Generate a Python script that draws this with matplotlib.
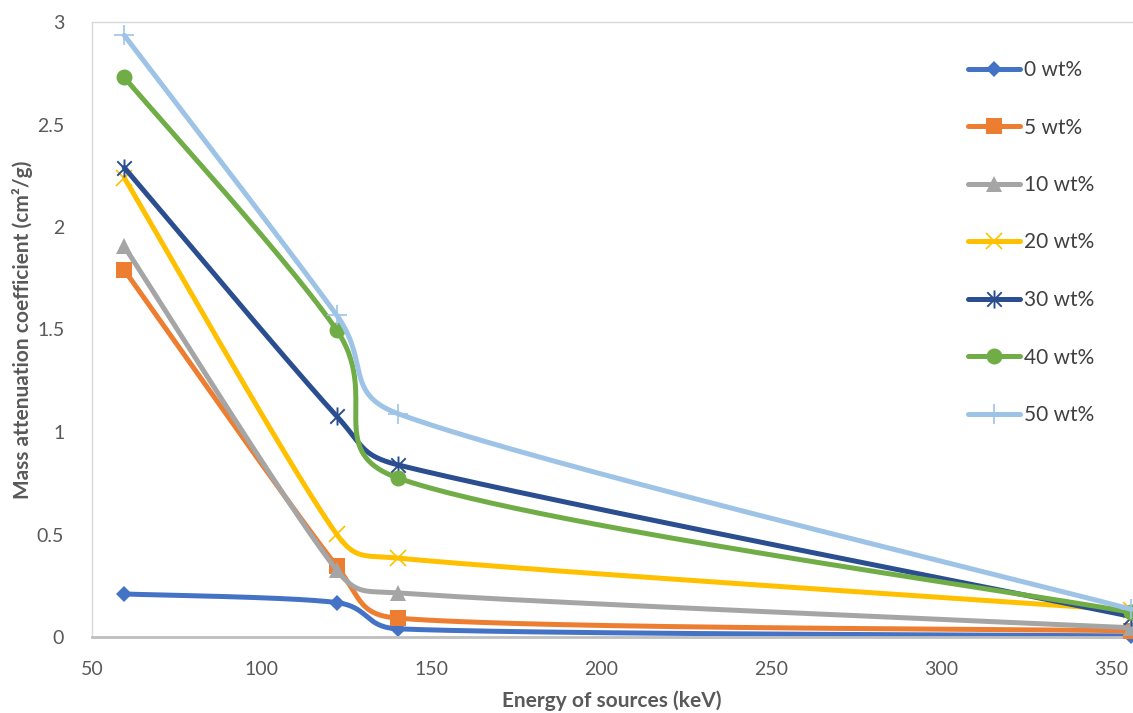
import numpy as np
import matplotlib
matplotlib.use("Agg")
import matplotlib.pyplot as plt
from matplotlib.path import Path
from matplotlib.lines import Line2D

# ---------------- data ----------------
energy = [59.5, 122, 140, 356]
series_labels = ["0 wt%", "5 wt%", "10 wt%", "20 wt%", "30 wt%", "40 wt%", "50 wt%"]
wt0 = [0.21, 0.168, 0.04, 0.005]
wt5 = [1.79, 0.346, 0.092, 0.03]
wt10 = [1.905, 0.327, 0.215, 0.045]
wt20 = [2.24, 0.502, 0.385, 0.13]
wt30 = [2.29, 1.078, 0.84, 0.10]
wt40 = [2.73, 1.498, 0.776, 0.12]
wt50 = [2.935, 1.571, 1.09, 0.135]
x_ticks = [50, 100, 150, 200, 250, 300, 350]
y_ticks = [0, 0.5, 1, 1.5, 2, 2.5, 3]
y_tick_labels = ["0", "0.5", "1", "1.5", "2", "2.5", "3"]

# ---------------- style ----------------
plt.rcParams['font.family'] = ['Lato', 'DejaVu Sans']
colors = ["#4472C4", "#ED7D31", "#A5A5A5", "#FFC000", "#2A4E8F", "#70AD47", "#9DC3E6"]

star_path = Path(
    [(-1, -1), (1, 1), (-1, 1), (1, -1), (0, -1.25), (0, 1.25)],
    [Path.MOVETO, Path.LINETO, Path.MOVETO, Path.LINETO, Path.MOVETO, Path.LINETO])

marker_specs = [
    dict(marker='D', ms=8.5, mew=0),
    dict(marker='s', ms=11, mew=0),
    dict(marker='^', ms=11, mew=0),
    dict(marker='x', ms=11, mew=1.2),
    dict(marker=star_path, ms=13, mew=1.4),
    dict(marker='o', ms=11.5, mew=0),
    dict(marker='+', ms=14, mew=1.2),
]

W, H = 1133, 713
fig = plt.figure(figsize=(W / 100, H / 100), dpi=100)
left_px, right_px, top_px, bottom_px = 92, 1145, 22, 637
ax = fig.add_axes([left_px / W, (H - bottom_px) / H,
                   (right_px - left_px) / W, (bottom_px - top_px) / H])
ax.set_xlim(50, 360)
ax.set_ylim(0, 3)
fig.canvas.draw()


def excel_smooth(xs, ys, n=60):
    """Excel-like smoothed line: Bezier segments with limited control arms,
    computed in display (pixel) space."""
    pts = ax.transData.transform(np.column_stack([xs, ys]))
    m = len(pts)
    out = [pts[0]]
    for i in range(m - 1):
        p0 = pts[i - 1] if i > 0 else pts[i]
        p1 = pts[i]
        p2 = pts[i + 1]
        p3 = pts[i + 2] if i + 2 < m else pts[i + 1]
        d02 = np.linalg.norm(p2 - p0)
        d12 = np.linalg.norm(p2 - p1)
        d13 = np.linalg.norm(p3 - p1)
        c1 = d02 / 6 >= d12 / 2
        c2 = d13 / 6 >= d12 / 2
        if not c1 and not c2:
            f1 = f2 = 1 / 6
        elif c1 and c2:
            f1 = d12 / 2 / d02
            f2 = d12 / 2 / d13
        elif c1:
            f1 = f2 = d12 / 2 / d02
        else:
            f1 = f2 = d12 / 2 / d13
        b1 = p1 + f1 * (p2 - p0)
        b2 = p2 - f2 * (p3 - p1)
        t = np.linspace(0, 1, n)[1:, None]
        seg = ((1 - t) ** 3) * p1 + 3 * ((1 - t) ** 2) * t * b1 + 3 * (1 - t) * t ** 2 * b2 + t ** 3 * p2
        out.extend(seg)
    out = np.array(out)
    data = ax.transData.inverted().transform(out)
    return data[:, 0], data[:, 1]


all_series = [wt0, wt5, wt10, wt20, wt30, wt40, wt50]
handles = []
for k, (vals, lab, col, ms) in enumerate(zip(all_series, series_labels, colors, marker_specs)):
    sx, sy = excel_smooth(energy, vals)
    ax.plot(sx, sy, color=col, lw=3.6, solid_capstyle='round', zorder=2 + k, clip_on=False)
    ax.plot(energy, vals, linestyle='none', marker=ms['marker'], markersize=ms['ms'],
            markerfacecolor=col, markeredgecolor=col, markeredgewidth=ms['mew'],
            zorder=2 + k, clip_on=False)
    handles.append(Line2D([0], [0], color=col, lw=3.6, solid_capstyle='round',
                          marker=ms['marker'], markersize=ms['ms'],
                          markerfacecolor=col, markeredgecolor=col,
                          markeredgewidth=ms['mew'], label=lab))

ax.set_xticks(x_ticks)
ax.set_yticks(y_ticks)
ax.set_yticklabels(y_tick_labels)
ax.tick_params(axis='both', length=0, labelsize=14, labelcolor='#595959')
ax.tick_params(axis='y', pad=20)
ax.tick_params(axis='x', pad=17)

for s in ['left', 'top', 'right']:
    ax.spines[s].set_color('#D9D9D9')
    ax.spines[s].set_linewidth(1.0)
ax.spines['bottom'].set_color('#BFBFBF')
ax.spines['bottom'].set_linewidth(2.0)

ax.set_xlabel("Energy of sources (keV)", fontsize=15, fontweight='bold', color='#595959',
              va='center')
ax.set_ylabel("Mass attenuation coefficient (cm²/g)", fontsize=15, fontweight='bold',
              color='#595959', va='center')
ax.xaxis.set_label_coords((612 - left_px) / (right_px - left_px), (bottom_px - 701) / (bottom_px - top_px))
ax.yaxis.set_label_coords((22 - left_px) / (right_px - left_px), 0.5)

leg = ax.legend(handles=handles, loc='upper left',
                bbox_to_anchor=(968 / W, 1 - 60 / H), bbox_transform=fig.transFigure,
                frameon=False, fontsize=15, labelspacing=1.80, handlelength=2.5,
                handletextpad=0.2, borderpad=0, borderaxespad=0)
for t in leg.get_texts():
    t.set_color('#404040')

fig.savefig("out.png", dpi=100)
